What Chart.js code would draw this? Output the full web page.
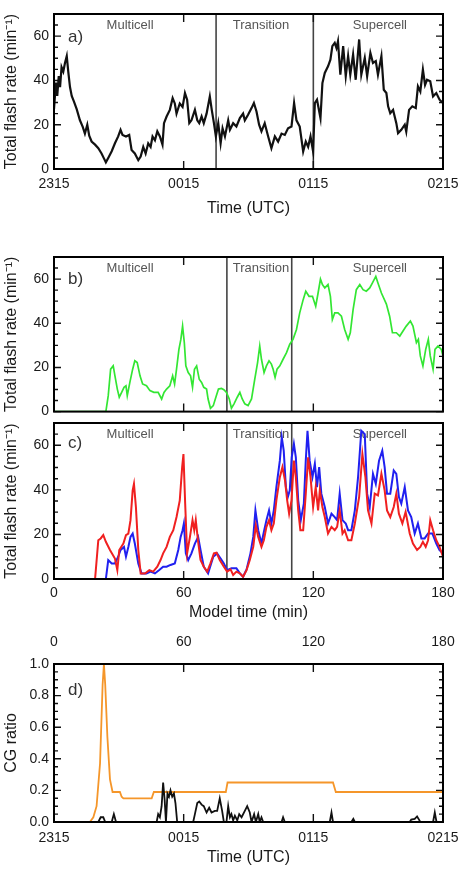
<!DOCTYPE html>
<html>
<head>
<meta charset="utf-8">
<title>Flash rate panels</title>
<script src="https://cdn.jsdelivr.net/npm/chart.js@4.4.1/dist/chart.umd.min.js"></script>
<style>
  html, body { margin: 0; padding: 0; background: #fff; }
  body { position: relative; width: 473px; height: 875px; overflow: hidden; }
  canvas { position: absolute; left: 0; }
</style>
</head>
<body>
<canvas id="chartA" width="473" height="225" style="top:0px"></canvas>
<canvas id="chartB" width="473" height="190" style="top:235px"></canvas>
<canvas id="chartC" width="473" height="220" style="top:405px"></canvas>
<canvas id="chartD" width="473" height="255" style="top:620px"></canvas>
<script>
// ---- tick labels ----
const modelTicks = [0, 60, 120, 180];
const utcLabels = ["2315", "0015", "0115", "0215"];
const modelLabels = ["0", "60", "120", "180"];
const rateTicks = [0, 20, 40, 60];
const rateMinor = [5, 10, 15, 25, 30, 35, 45, 50, 55, 65];
const ratioTicks = [0, 0.2, 0.4, 0.6, 0.8, 1.0];
const ratioMinor = [0.05, 0.1, 0.15, 0.25, 0.3, 0.35, 0.45, 0.5, 0.55, 0.65, 0.7, 0.75, 0.85, 0.9, 0.95];
const phaseNames = ["Multicell", "Transition", "Supercell"];
const phaseCentres = [35.2, 95.8, 150.8];

// ---- a) observed total flash rate ----
const aTime = [0,0.9,1.5,2.2,2.8,3.5,4.3,5.1,5.9,6.6,7.4,8.2,9.2,10.5,12.0,13.3,14.3,15.4,16.3,17.4,19.0,20.5,22.0,23.1,24.0,25.1,26.7,28.2,29.7,30.8,31.7,33.3,34.8,35.9,37.4,39.0,40.1,41.3,42.4,43.6,44.7,45.6,46.7,47.8,49.0,50.2,50.9,52.1,53.6,54.9,55.9,56.7,58.2,59.5,60.6,61.6,62.6,63.6,65.2,66.3,67.2,68.3,69.3,70.6,72.1,73.0,74.0,74.9,76.0,77.1,78.0,79.1,80.6,81.4,82.9,84.4,86.0,87.5,88.3,89.8,91.4,92.5,93.7,94.9,96.0,97.5,99.1,100.6,102.2,103.7,105.3,106.8,108.3,109.9,111.1,112.2,113.7,115.3,116.5,117.6,118.7,119.9,120.7,121.7,123.3,124.2,125.3,126.8,127.9,128.8,129.9,130.7,131.4,132.5,133.8,135.0,136.1,137.1,138.4,139.6,141.2,142.2,143.8,144.9,146.4,147.6,148.9,149.9,151.5,152.6,153.8,154.6,155.6,156.9,158.4,159.2,160.7,162.3,163.0,164.3,165.8,167.4,168.4,169.5,170.7,171.7,172.6,174.1,175.4,176.9,178.4,180];
const aRate = [27,39,33,42,37,46,44,48,51,44,37,33,30.5,27,22,19,16,20,15,12.4,11,9.4,7,4.8,3,5,8,11.6,14.7,17.7,15.4,14.7,15.4,8.6,7,4,5.6,10,7,11.6,10,14.7,13,17,14.7,11,20.7,23.7,26.7,32,29.6,25,29.6,28,34.3,31.3,20.7,22,26.7,22,20.7,23.7,20.7,25,32.8,26.7,20.7,14.7,20.7,11.6,18.4,14.7,22,17.7,20.7,19.2,23,25,22,24.5,27.5,29.8,26,20,17,20.7,14.7,9.4,14.7,12.4,16,15.4,18.4,19.2,29.8,22,19.2,7.9,12.4,10,14.7,7.9,29.8,31.3,23,38.8,43.4,46.4,49.4,55.5,57,54.7,57.7,42.6,55.5,41.9,51,42.6,51.7,40.3,58.5,42.6,50.2,41.9,52.4,47.9,48.7,42.6,51,35.8,34.3,28.3,25.2,26.7,20.7,16.2,17.7,20,16.9,26.7,28.3,27.5,37.3,35,44.9,38,40.3,39.6,32.8,34.3,31.3,29.8];

// ---- b) simulated total flash rate (green) ----
const bTime = [0,24.0,25.1,26.2,27.4,28.2,29.3,30.2,31.3,32.4,33.3,33.9,35.1,36.4,37.4,38.5,39.8,41.0,42.8,44.4,46.2,48.2,49.8,50.9,52.1,53.6,54.9,55.8,56.7,57.8,58.7,59.5,60.3,61.0,62.1,63.2,64.1,65.0,66.0,67.2,68.3,69.3,70.6,71.3,72.4,73.7,74.9,76.1,77.5,78.6,79.8,81.1,82.1,83.3,84.8,86.0,87.1,88.3,89.8,91.4,92.9,94.2,95.2,96.0,97.2,98.3,99.5,100.6,101.4,102.3,103.2,104.5,106.0,107.6,109.1,110.6,112.2,113.7,115.3,116.5,118.0,119.6,121.1,122.2,123.3,124.2,125.3,126.8,127.9,128.8,129.9,131.4,133.0,134.5,136.1,137.1,138.4,139.9,141.5,143.0,144.5,146.1,147.3,148.9,149.9,151.5,153.8,155.3,156.6,158.4,160.0,161.5,163.0,164.9,166.1,167.7,168.6,169.5,170.7,172.0,173.2,174.1,175.4,176.3,177.7,179.2,180];
const bRate = [0,0,7.2,19.2,20.7,16.2,10.2,6.5,8.7,11,11.7,7.2,13.2,19.2,23,22.2,16.2,12.5,11.7,9.5,8.7,8.7,5.7,8.7,10.2,11.7,16.2,12.5,19.2,28.2,32.7,38.7,31.2,20.7,17.7,16.2,11,19.2,20.7,14.7,13.2,11,10.2,5.7,1.5,2.7,6.5,10.2,10.5,9.9,8.7,5.7,1.5,3.5,6.5,8.7,5.7,3.5,2.7,5.7,14.7,22.2,29.7,23.7,17.7,20.7,23,21.5,19.2,15.5,19.2,20.7,23.7,26.7,30.5,32.7,37.2,44.7,50.7,54.5,52.2,52.2,47.7,53.7,60,57.5,56,57.5,52.2,41.7,44.7,44.7,43.2,37.2,32.7,35.7,46.2,55.2,57.5,55.2,54.5,56,58.2,61.2,58.2,53.7,48.7,43.2,35.7,35.7,34.2,36.5,38.7,41,38.7,31.2,32.7,25.2,20.7,28.2,32.7,25.2,19.2,28.2,29.7,28.2,25.2];

// ---- c) red and blue runs ----
const redTime = [0,19.0,20.5,21.6,22.8,24.0,25.9,28.2,29.3,30.2,32.1,33.3,34.4,35.4,36.4,37.0,37.9,39.0,40.1,42.1,44.1,45.9,47.8,49.3,50.5,52.1,53.6,55.2,56.7,58.2,59.3,59.9,60.7,61.6,62.9,64.1,64.9,65.6,66.6,67.8,69.3,70.9,72.4,74.0,75.2,76.7,78.6,80.1,81.7,82.9,84.4,86.0,87.5,89.1,90.6,92.2,93.4,94.5,96.0,97.1,98.3,99.5,100.6,101.7,102.9,104.5,105.7,106.9,107.9,108.8,109.9,111.0,111.9,113.0,114.0,115.3,116.5,117.6,118.7,119.9,121.1,122.2,123.0,124.2,125.3,126.8,128.4,129.9,131.0,132.2,133.5,134.5,136.1,137.6,139.2,141.2,142.7,144.1,145.3,146.9,148.4,149.9,151.5,153.0,154.1,155.6,157.2,158.4,159.6,161.2,162.7,164.6,166.1,168.0,169.5,170.7,172.0,173.1,174.1,175.4,176.9,178.4,180];
const redRate = [0,0,17.4,18.2,19.7,16.7,13,9.2,4,13,15.9,19.7,20.4,26.4,39.8,42.7,32.3,13,2.5,2.5,4,3.3,5.5,8.5,11.5,14.4,18.9,21.9,27.8,35.3,50.2,56.1,33.8,11.5,18.9,26.4,21.9,26.4,17.4,8.5,5.5,3.3,7,11.5,11.8,8.5,5.5,3.3,4.3,1.8,3.3,2.5,1,4,8.5,14.4,24.1,18.9,14.4,17.4,23.4,26.4,21.9,24.9,35.3,45.7,50.2,44.2,35.3,29.3,35.3,53.1,45.7,30.8,21.9,21.9,38.3,54.6,45.7,32.3,41.2,30.8,39.8,32.3,27.8,20.4,23.4,21.9,23.4,30.8,20.4,21.9,17.4,17.4,24.9,36.8,56.1,45.7,30.8,24.9,38.3,37.5,47.2,39.8,30.8,27.8,32.3,38.3,29.3,24.9,30.1,20.4,15.9,13,14.4,16.7,14.4,17.4,26.4,21.9,17.4,14.4,10];
const blueTime = [0,24.0,25.1,26.7,28.2,29.7,30.8,32.4,33.3,34.4,35.4,36.4,37.4,39.0,40.5,42.8,44.7,46.7,48.7,50.5,52.1,53.9,55.9,57.5,58.6,59.5,60.1,61.0,62.1,63.6,65.2,66.7,67.8,69.3,71.3,73.7,75.5,77.1,78.6,80.1,82.1,84.4,86.0,87.5,89.1,90.9,92.2,93.2,94.5,96.0,97.1,98.3,99.5,100.6,101.7,102.9,104.5,105.4,106.3,107.3,108.2,109.1,110.0,111.0,111.9,113.0,114.2,115.6,116.5,117.3,118.3,119.6,120.7,121.7,122.7,123.7,125.3,126.8,128.4,129.9,131.0,132.2,133.5,135.0,136.1,137.6,139.2,140.7,142.2,143.8,144.9,146.1,147.6,148.9,150.4,151.9,153.0,154.1,155.6,157.2,158.4,159.6,160.7,162.3,163.8,165.3,166.9,168.4,170.0,171.5,173.1,175.1,176.9,178.4,180];
const blueRate = [0,0,8.5,7,7,10,13,14.4,10,14.4,18.9,20.4,15.9,7,2.5,2.5,3.3,2.5,4,5.5,5.5,6.3,7,13,18.9,21.9,24.9,11.5,8.5,11.5,15.9,18.9,13,5.5,2.5,10,11.5,9.2,7,4,4.8,4.8,2.5,1,4.3,11.5,18.9,30.8,21.9,15.9,21.1,26.4,30.8,24.9,30.8,41.2,53.1,63.6,57.6,41.2,36.8,39.8,54.6,60.6,54.6,35.3,26.4,33.8,53.1,66.5,53.1,45.7,51.7,41.2,50.2,38.3,32.3,24.9,29.3,27.8,26.4,38.3,26.4,24.9,21.9,21.9,30.8,45.7,66.5,65,38.3,32.3,47.2,42.7,53.1,57.6,50.2,38.3,38.3,48.7,47.2,36.8,33.8,41.2,30.8,27.8,20.4,24.9,18.2,18.2,20.4,20.4,15.9,13,11.5];

// ---- d) CG ratio ----
const orangeTime = [0,16.6,18.2,19.7,21.3,22.5,23.1,23.7,24.7,25.9,27.1,30.5,31.3,32.1,45.2,46.2,79.5,80.3,129.1,130.4,180];
const orangeRatio = [0,0,0.03,0.1,0.37,0.87,1.0,0.87,0.54,0.27,0.19,0.19,0.16,0.15,0.15,0.19,0.19,0.25,0.25,0.19,0.19];
const obsCgTime = [0,20.5,21.6,22.8,23.7,26.7,27.7,28.7,47.5,48.2,49.0,49.8,50.5,51.2,51.8,52.5,53.2,53.9,54.7,55.5,56.2,57.0,64.4,65.2,66.3,67.2,68.3,69.3,70.6,71.8,72.9,74.4,75.5,76.7,77.8,78.6,79.8,80.6,81.4,82.1,82.9,83.7,84.8,85.7,86.8,88.3,89.4,90.6,91.4,92.6,93.4,94.5,95.2,96.0,96.8,105.3,106.0,106.8,127.6,128.4,129.1,137.6,138.5,139.2,164.6,165.3,166.9,168.0,168.9,169.5,175.4,176.2,177.0,180];
const obsCgRatio = [0,0,0.03,0.03,0,0,0.05,0,0,0.05,0.03,0.1,0.25,0.14,0,0.18,0.16,0.2,0.16,0.18,0.12,0,0,0.05,0.12,0.13,0.11,0.1,0.06,0.09,0.06,0.07,0.07,0.15,0.07,0,0,0.1,0.03,0.05,0.01,0.04,0.01,0.05,0.03,0.07,0.1,0.06,0,0.05,0,0.05,0,0.03,0,0,0.03,0,0,0.06,0,0,0.02,0,0,0.015,0.02,0.035,0.015,0,0,0.06,0,0];

const pts = (xs, ys) => xs.map((t, i) => ({ x: t, y: ys[i] }));

Chart.defaults.font.family = '"Liberation Sans", Arial, Helvetica, sans-serif';
Chart.defaults.color = "#1a1a1a";
const FAMILY = Chart.defaults.font.family;

// frame, inward ticks, phase dividers and labels
const framePlugin = {
  id: "frame",
  beforeDatasetsDraw(chart, args, o) {
    const { ctx, chartArea: { left, top, bottom } } = chart;
    const x = chart.scales.x;
    ctx.save();
    ctx.strokeStyle = "#444";
    ctx.lineWidth = 1.6;
    (o.dividers || []).forEach(v => {
      const p = x.getPixelForValue(v);
      ctx.beginPath();
      ctx.moveTo(p, top);
      ctx.lineTo(p, bottom);
      ctx.stroke();
    });
    ctx.textBaseline = "middle";
    if (o.phases) {
      ctx.font = "13px " + FAMILY;
      ctx.fillStyle = "#555";
      ctx.textAlign = "center";
      phaseNames.forEach((n, i) => ctx.fillText(n, x.getPixelForValue(phaseCentres[i]), top + 11.5));
    }
    ctx.font = "17px " + FAMILY;
    ctx.fillStyle = "#333";
    ctx.textAlign = "left";
    ctx.fillText(o.tag, left + 14, top + o.tagY);
    ctx.restore();
  },
  afterDatasetsDraw(chart, args, o) {
    const { ctx, chartArea: { left, right, top, bottom } } = chart;
    const x = chart.scales.x, y = chart.scales.y;
    ctx.save();
    ctx.strokeStyle = "#111";
    ctx.lineWidth = 1.4;
    ctx.beginPath();
    const yMark = (v, len) => {
      const p = y.getPixelForValue(v);
      ctx.moveTo(left, p); ctx.lineTo(left + len, p);
      ctx.moveTo(right, p); ctx.lineTo(right - len, p);
    };
    o.yMinor.forEach(v => yMark(v, 4));
    o.yMajor.forEach(v => yMark(v, 7));
    [60, 120].forEach(v => {
      const p = x.getPixelForValue(v);
      ctx.moveTo(p, bottom); ctx.lineTo(p, bottom - 8);
      ctx.moveTo(p, top); ctx.lineTo(p, top + 8);
    });
    ctx.stroke();
    ctx.lineWidth = 2;
    ctx.strokeStyle = "#000";
    ctx.strokeRect(left, top, right - left, bottom - top);
    ctx.restore();
  }
};

function xAxis(cfg) {
  return {
    type: "linear", min: 0, max: 180,
    display: cfg.display !== false,
    position: cfg.position || "bottom",
    grid: { display: false, drawTicks: false },
    border: { display: false },
    afterBuildTicks: s => { s.ticks = modelTicks.map(v => ({ value: v })); },
    afterFit: s => { s.height = cfg.height || 0; },
    ticks: {
      autoSkip: false, maxRotation: 0, padding: cfg.pad || 0,
      font: { size: 14 }, color: "#1a1a1a",
      callback: (v, i) => (cfg.labels || [])[i]
    },
    title: cfg.title
      ? { display: true, text: cfg.title, font: { size: 16 }, color: "#1a1a1a", padding: { top: 0, bottom: cfg.titlePad } }
      : { display: false }
  };
}

function yAxis(ticks, max, title, fmt) {
  return {
    type: "linear", min: 0, max: max,
    grid: { display: false, drawTicks: false },
    border: { display: false },
    afterBuildTicks: s => { s.ticks = ticks.map(v => ({ value: v })); },
    afterFit: s => { s.width = 54; },
    ticks: { padding: 5, font: { size: 14 }, color: "#1a1a1a", callback: fmt },
    title: { display: true, text: title, font: { size: 16 }, color: "#1a1a1a", padding: { top: 2.4, bottom: 0 } }
  };
}

function line(data, color, width) {
  return { data: data, borderColor: color, borderWidth: width, pointRadius: 0, tension: 0, fill: false };
}

function panel(id, datasets, scales, padTop, padBottom, frame) {
  return new Chart(document.getElementById(id), {
    type: "line",
    data: { datasets: datasets },
    options: {
      responsive: false, animation: false, events: [],
      layout: { padding: { left: 0, right: 30, top: padTop, bottom: padBottom } },
      plugins: { legend: { display: false }, tooltip: { enabled: false }, frame: frame },
      scales: scales
    },
    plugins: [framePlugin]
  });
}

const rateTitle = "Total flash rate (min\u207B\u00B9)";
const intFmt = v => String(v);

panel("chartA",
  [line(pts(aTime, aRate), "#111", 2.2)],
  { x: xAxis({ height: 56, pad: 6.6, labels: utcLabels, title: "Time (UTC)", titlePad: 6.4 }),
    y: yAxis(rateTicks, 70, rateTitle, intFmt) },
  14, 0,
  { dividers: [75, 120], phases: true, tag: "a)", tagY: 23, yMajor: rateTicks, yMinor: rateMinor });

panel("chartB",
  [line(pts(bTime, bRate), "#33e633", 1.7)],
  { x: xAxis({ display: false }),
    y: yAxis(rateTicks, 70, rateTitle, intFmt) },
  22, 12,
  { dividers: [80, 110], phases: true, tag: "b)", tagY: 22, yMajor: rateTicks, yMinor: rateMinor });

panel("chartC",
  [line(pts(redTime, redRate), "#f02020", 2), line(pts(blueTime, blueRate), "#2020f0", 2)],
  { x: xAxis({ height: 46, pad: 5.6, labels: modelLabels, title: "Model time (min)", titlePad: 2.4 }),
    y: yAxis(rateTicks, 70, rateTitle, intFmt) },
  18, 0,
  { dividers: [80, 110], phases: true, tag: "c)", tagY: 20, yMajor: rateTicks, yMinor: rateMinor });

panel("chartD",
  [line(pts(obsCgTime, obsCgRatio), "#111", 1.8), line(pts(orangeTime, orangeRatio), "#f5962a", 1.8)],
  { x: xAxis({ height: 53, pad: 7.6, labels: utcLabels, title: "Time (UTC)", titlePad: 7.4 }),
    x2: xAxis({ height: 44, pad: 13.6, labels: modelLabels, position: "top" }),
    y: yAxis(ratioTicks, 1, "CG ratio", v => v.toFixed(1)) },
  0, 0,
  { dividers: [], phases: false, tag: "d)", tagY: 26, yMajor: ratioTicks, yMinor: ratioMinor });
</script>
</body>
</html>
